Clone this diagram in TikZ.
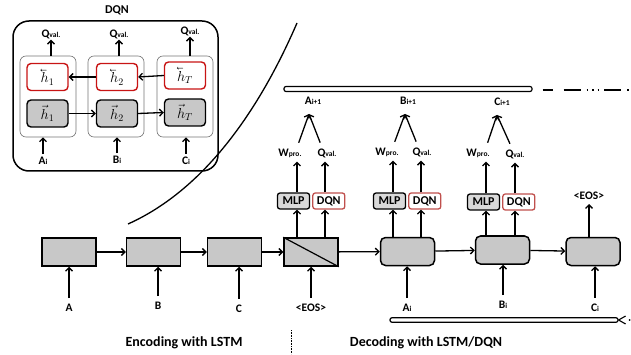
\documentclass[tikz,border=0pt]{standalone}
\usepackage{amsmath, amssymb}
\usepackage{fontspec}
\setmainfont{Carlito}
\usetikzlibrary{arrows.meta, positioning, calc}
\definecolor{cellred}{RGB}{200,20,20}
\definecolor{dqnred}{RGB}{192,80,77}
\definecolor{boxgray}{RGB}{200,200,200}
\newcommand{\lo}[1]{{\fontsize{7.5}{8}\selectfont #1}}
\newcommand{\cev}[1]{\reflectbox{\ensuremath{\vec{\reflectbox{\ensuremath{#1}}}}}}

\begin{document}
\begin{tikzpicture}[x=1pt,y=-1pt,
    cell/.style={draw=black!55, line width=0.6pt, rounded corners=6pt, minimum width=56pt, minimum height=81pt, inner sep=0pt},
    fwd/.style={draw, line width=1.4pt, fill=boxgray, rounded corners=4pt, minimum width=41pt, minimum height=27pt, inner sep=0pt},
    bwd/.style={fwd, draw=cellred, fill=white},
    enc/.style={draw, line width=1.5pt, fill=boxgray, minimum width=54pt, minimum height=28pt, inner sep=0pt},
    dec/.style={enc, rounded corners=5pt},
    mlp/.style={draw, line width=1.3pt, fill=black!15, rounded corners=2.5pt, minimum width=32pt, minimum height=16pt, inner sep=1pt, font=\bfseries\fontsize{12}{13}\selectfont},
    dqn/.style={mlp, draw=dqnred, fill=white},
    lbl/.style={font=\bfseries\fontsize{11.5}{13}\selectfont, inner sep=1pt},
    arr/.style={line width=1.3pt, -{Straight Barb[length=3.5pt,width=7pt]}},
    bar/.style={draw, line width=1.2pt, fill=white, rounded corners=2pt, inner sep=0pt}]
    \useasboundingbox (0,0) rectangle (631,355);

    % DQN inset
    \node[font=\bfseries\fontsize{12}{14}\selectfont] (dqntitle) at (117,10) {DQN};
    \node[draw, line width=1.5pt, rounded corners=16pt, minimum width=205pt, minimum height=150pt] (frame) at (115.5,96) {};

    \node[cell] (c1) at (48,96.5) {};
    \node[cell] (c2) at (116,96.5) {};
    \node[cell] (c3) at (185,96.5) {};

    \node[bwd] (b1) at (47.5,77) {\Large$\cev{h}_1$};
    \node[bwd] (b2) at (117,77) {\Large$\cev{h}_2$};
    \node[bwd] (b3) at (185,75.5) {\Large$\cev{h}_T$};
    \node[fwd] (f1) at (47.5,113.5) {\Large$\vec{h}_1$};
    \node[fwd] (f2) at (117,113.5) {\Large$\vec{h}_2$};
    \node[fwd] (f3) at (185,112.5) {\Large$\vec{h}_T$};

    \node[lbl] (qv1) at (51,34) {Q\lo{val.}};
    \node[lbl] (qv2) at (119,34) {Q\lo{val.}};
    \node[lbl] (qv3) at (190,31) {Q\lo{val.}};
    \node[lbl] (ai) at (43,161) {A\lo{i}};
    \node[lbl] (bi) at (117,160) {B\lo{i}};
    \node[lbl] (ci) at (186,161) {C\lo{i}};

    \draw[arr] (b3.west) -- (b2.east);
    \draw[arr] (b2.west) -- (b1.east);
    \draw[arr] (f1.east) -- (f2.west);
    \draw[arr] (f2.east) -- (f3.west);
    \draw[arr] (qv1.south |- c1.north) -- (qv1.south);
    \draw[arr] (qv2.south |- c2.north) -- (qv2.south);
    \draw[arr] (qv3.south |- c3.north) -- (qv3.south);
    \draw[arr, shorten <=2pt] (ai.north) -- (ai.north |- c1.south);
    \draw[arr, shorten <=2pt] (bi.north) -- (bi.north |- c2.south);
    \draw[arr, shorten <=2pt] (ci.north) -- (ci.north |- c3.south);

    % separating curve
    \draw[line width=1.3pt] (128,224) .. controls (215,185) and (268,90) .. (297,23);

    % Encoder
    \node[enc] (e1) at (69,252) {};
    \node[enc] (e2) at (153.5,252) {};
    \node[enc] (e3) at (234.5,252) {};
    \node[enc] (e4) at (311,252) {};
    \draw[line width=1.2pt] (e4.north west) -- (e4.south east);

    \node[lbl] (la) at (69,308) {A};
    \node[lbl] (lb) at (158,306) {B};
    \node[lbl] (lc) at (239,309) {C};
    \node[lbl] (leos) at (311,308) {\textless EOS\textgreater};

    \draw[arr] (e1) -- (e2);
    \draw[arr] (e2) -- (e3);
    \draw[arr] (e3) -- (e4);
    \draw[arr, shorten <=5pt] (la.north) -- (la.north |- e1.south);
    \draw[arr, shorten <=5pt] (lb.north) -- (lb.north |- e2.south);
    \draw[arr, shorten <=5pt] (lc.north) -- (lc.north |- e3.south);
    \draw[arr, shorten <=5pt] (leos.north) -- (leos.north |- e4.south);

    % Decoder
    \node[dec] (d1) at (407.5,251.5) {};
    \node[dec] (d2) at (502.5,250) {};
    \node[dec] (d3) at (593,251.5) {};
    \draw[arr] (e4) -- (d1);
    \draw[arr] (d1) -- (d2);
    \draw[arr] (d2) -- (d3);

    \node[lbl] (lai) at (407,308) {A\lo{i}};
    \node[lbl] (lbi) at (503,305) {B\lo{i}};
    \node[lbl] (lci) at (595,308) {C\lo{i}};
    \draw[arr, shorten <=5pt] (lai.north) -- (lai.north |- d1.south);
    \draw[arr, shorten <=5pt] (lbi.north) -- (lbi.north |- d2.south);
    \draw[arr, shorten <=5pt] (lci.north) -- (lci.north |- d3.south);

    % feedback bar
    \node[bar, minimum width=228pt, minimum height=4.5pt] (fbbar) at (504,320) {};
    \draw[line width=1.1pt] ($(fbbar.east)+(7,-4)$) -- (fbbar.east) -- ($(fbbar.east)+(7,4)$);
    \fill ($(fbbar.east)+(11,0)$) circle (0.9pt);

    % MLP / DQN heads
    \node[mlp] (m1) at (293.5,201) {MLP};
    \node[dqn, right=2pt of m1] (q1) {DQN};
    \node[mlp] (m2) at (389.5,201) {MLP};
    \node[dqn, right=2pt of m2] (q2) {DQN};
    \node[mlp] (m3) at (483.5,202) {MLP};
    \node[dqn, right=2pt of m3] (q3) {DQN};

    \coordinate (w1) at (297,0);
    \coordinate (v1) at (325,0);
    \coordinate (w2) at (393,0);
    \coordinate (v2) at (421,0);
    \coordinate (w3) at (486,0);
    \coordinate (v3) at (515,0);

    \draw[arr] (e4.north -| w1) -- (m1.south -| w1);
    \draw[arr] (e4.north -| v1) -- (q1.south -| v1);
    \draw[arr] (d1.north -| w2) -- (m2.south -| w2);
    \draw[arr] (d1.north -| v2) -- (q2.south -| v2);
    \draw[arr] (d2.north -| w3) -- (m3.south -| w3);
    \draw[arr] (d2.north -| v3) -- (q3.south -| v3);

    \node[lbl] (wl1) at (290,153) {W\lo{pro.}};
    \node[lbl] (ql1) at (327,153) {Q\lo{val.}};
    \node[lbl] (wl2) at (387,152) {W\lo{pro.}};
    \node[lbl] (ql2) at (422,152) {Q\lo{val.}};
    \node[lbl] (wl3) at (478,153) {W\lo{pro.}};
    \node[lbl] (ql3) at (515,154) {Q\lo{val.}};

    \draw[arr, shorten >=3pt] (m1.north -| w1) -- (wl1.south -| w1);
    \draw[arr, shorten >=3pt] (q1.north -| v1) -- (ql1.south -| v1);
    \draw[arr, shorten >=3pt] (m2.north -| w2) -- (wl2.south -| w2);
    \draw[arr, shorten >=3pt] (q2.north -| v2) -- (ql2.south -| v2);
    \draw[arr, shorten >=3pt] (m3.north -| w3) -- (wl3.south -| w3);
    \draw[arr, shorten >=3pt] (q3.north -| v3) -- (ql3.south -| v3);

    % next outputs
    \node[lbl] (an1) at (313,101) {A\lo{i+1}};
    \node[lbl] (bn1) at (408,101) {B\lo{i+1}};
    \node[lbl] (cn1) at (502,102) {C\lo{i+1}};
    \node[lbl] (leos2) at (589,196) {\textless EOS\textgreater};
    \draw[arr, shorten >=3pt] (d3.north -| leos2) -- (leos2.south);
    \coordinate (t1) at (309,114);
    \coordinate (t2) at (405,114);
    \coordinate (t3) at (497,115);

    \draw[arr, shorten <=5pt] (wl1.north -| w1) -- (t1);
    \draw[arr, shorten <=5pt] ([xshift=-3pt]ql1.north -| v1) -- (t1);
    \draw[arr, shorten <=5pt] (wl2.north -| w2) -- (t2);
    \draw[arr, shorten <=5pt] ([xshift=-3pt]ql2.north -| v2) -- (t2);
    \draw[arr, shorten <=5pt] (wl3.north -| w3) -- (t3);
    \draw[arr, shorten <=5pt] ([xshift=-3pt]ql3.north -| v3) -- (t3);

    % output bar
    \node[bar, minimum width=248pt, minimum height=5pt] (topbar) at (408,89) {};
    \coordinate (fbend) at (631,90);
    \draw[line width=1.3pt, dash pattern=on 10pt off 11pt on 17pt off 6pt on 1.5pt off 4pt on 1.5pt off 4pt on 1.5pt off 5pt on 17pt off 6pt on 1.5pt off 10pt]
        ($(topbar.east)+(10,1)$) -- (fbend);

    % captions
    \draw[densely dotted, line width=0.6pt] (291,330) -- (291,354);
    \node[font=\bfseries\fontsize{14}{16}\selectfont] (enctxt) at (184,343) {Encoding with LSTM};
    \node[font=\bfseries\fontsize{14}{16}\selectfont] (dectxt) at (426,343) {Decoding with LSTM/DQN};
\end{tikzpicture}
\end{document}
